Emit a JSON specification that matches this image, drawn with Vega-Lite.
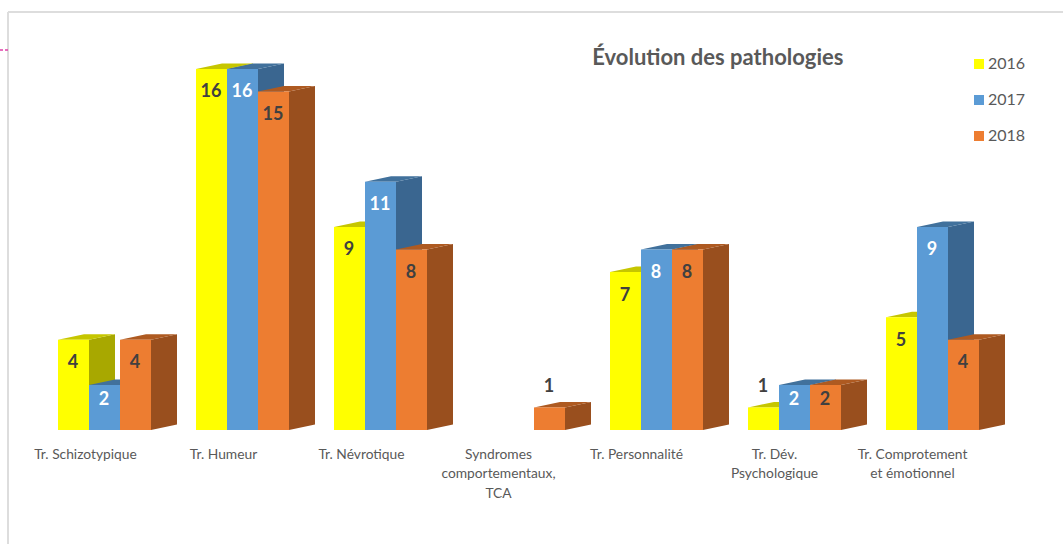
{
  "$schema": "https://vega.github.io/schema/vega-lite/v6.json",
  "width": 1063,
  "height": 544,
  "autosize": {"type": "none"},
  "padding": 0,
  "background": "white",
  "view": {"stroke": null},
  "title": {"text": "Évolution des pathologies", "anchor": "start", "dx": 593, "offset": -70, "font": "Lato", "fontSize": 22, "fontWeight": "bold", "color": "#595959"},
  "data": {"values": [
    {"pathologie": "Tr. Schizotypique", "annee": "2016", "n": 4},
    {"pathologie": "Tr. Schizotypique", "annee": "2017", "n": 2},
    {"pathologie": "Tr. Schizotypique", "annee": "2018", "n": 4},
    {"pathologie": "Tr. Humeur", "annee": "2016", "n": 16},
    {"pathologie": "Tr. Humeur", "annee": "2017", "n": 16},
    {"pathologie": "Tr. Humeur", "annee": "2018", "n": 15},
    {"pathologie": "Tr. Névrotique", "annee": "2016", "n": 9},
    {"pathologie": "Tr. Névrotique", "annee": "2017", "n": 11},
    {"pathologie": "Tr. Névrotique", "annee": "2018", "n": 8},
    {"pathologie": "Syndromes comportementaux, TCA", "annee": "2018", "n": 1},
    {"pathologie": "Tr. Personnalité", "annee": "2016", "n": 7},
    {"pathologie": "Tr. Personnalité", "annee": "2017", "n": 8},
    {"pathologie": "Tr. Personnalité", "annee": "2018", "n": 8},
    {"pathologie": "Tr. Dév. Psychologique", "annee": "2016", "n": 1},
    {"pathologie": "Tr. Dév. Psychologique", "annee": "2017", "n": 2},
    {"pathologie": "Tr. Dév. Psychologique", "annee": "2018", "n": 2},
    {"pathologie": "Tr. Comprotement et émotionnel", "annee": "2016", "n": 5},
    {"pathologie": "Tr. Comprotement et émotionnel", "annee": "2017", "n": 9},
    {"pathologie": "Tr. Comprotement et émotionnel", "annee": "2018", "n": 4}
  ]},
  "transform": [
    {"calculate": "indexof(['Tr. Schizotypique','Tr. Humeur','Tr. Névrotique','Syndromes comportementaux, TCA','Tr. Personnalité','Tr. Dév. Psychologique','Tr. Comprotement et émotionnel'], datum.pathologie)", "as": "g"},
    {"calculate": "toNumber(datum.annee) - 2016", "as": "s"},
    {"calculate": "58 + 138 * datum.g + 31 * datum.s", "as": "x0"},
    {"calculate": "datum.x0 + 31", "as": "x1"},
    {"calculate": "datum.pathologie + datum.annee", "as": "key"}
  ],
  "layer": [
    {
      "data": {"values": [{}]},
      "mark": {"type": "rule", "color": "#DDDDDD", "strokeWidth": 2},
      "encoding": {
        "x": {"datum": 8, "type": "quantitative", "scale": {"domain": [0, 1063], "nice": false, "zero": false}, "axis": null},
        "y": {"datum": 18.53, "type": "quantitative", "scale": {"domain": [-5.053, 19.06], "nice": false, "zero": false}, "axis": null},
        "y2": {"datum": -5.053}
      }
    },
    {
      "data": {"values": [{}]},
      "mark": {"type": "rule", "color": "#DDDDDD", "strokeWidth": 2},
      "encoding": {
        "x": {"datum": 8, "type": "quantitative", "axis": null},
        "x2": {"datum": 1063},
        "y": {"datum": 18.53, "type": "quantitative", "axis": null}
      }
    },
    {
      "data": {"values": [{}]},
      "mark": {"type": "rule", "color": "#E040A8", "strokeWidth": 1.5, "strokeDash": [3, 2]},
      "encoding": {
        "x": {"datum": 0, "type": "quantitative", "axis": null},
        "x2": {"datum": 8},
        "y": {"datum": 16.84, "type": "quantitative", "axis": null}
      }
    },
    {
      "transform": [
        {"calculate": "[0, 1]", "as": "t"},
        {"flatten": ["t"]},
        {"calculate": "datum.x1 + 26 * datum.t", "as": "xs"},
        {"calculate": "0.244 * datum.t", "as": "ylow"},
        {"calculate": "datum.n + 0.244 * datum.t", "as": "yhigh"}
      ],
      "mark": {"type": "area", "opacity": 1, "line": false},
      "encoding": {
        "x": {"field": "xs", "type": "quantitative", "axis": null},
        "y": {"field": "yhigh", "type": "quantitative", "stack": null, "axis": null},
        "y2": {"field": "ylow"},
        "detail": {"field": "key"},
        "color": {"field": "annee", "type": "nominal", "legend": null, "scale": {"domain": ["2016", "2017", "2018"], "range": ["#A8A800", "#3A6690", "#994F1E"]}}
      }
    },
    {
      "transform": [
        {"calculate": "[0, 26, 31, 57]", "as": "p"},
        {"flatten": ["p"]},
        {"calculate": "datum.x0 + datum.p", "as": "xt"},
        {"calculate": "datum.n + (datum.p > 31 ? 0.244 : 0)", "as": "ylow"},
        {"calculate": "datum.n + (datum.p >= 26 ? 0.244 : 0)", "as": "yhigh"}
      ],
      "mark": {"type": "area", "opacity": 1, "line": false},
      "encoding": {
        "x": {"field": "xt", "type": "quantitative", "axis": null},
        "y": {"field": "yhigh", "type": "quantitative", "stack": null, "axis": null},
        "y2": {"field": "ylow"},
        "detail": {"field": "key"},
        "color": {"field": "annee", "type": "nominal", "legend": null, "scale": {"domain": ["2016", "2017", "2018"], "range": ["#C6C600", "#41719C", "#AE5A21"]}}
      }
    },
    {
      "mark": {"type": "rect"},
      "encoding": {
        "x": {"field": "x0", "type": "quantitative", "axis": {
          "title": null, "orient": "bottom", "offset": -114, "domain": false, "ticks": false, "grid": false,
          "values": [85, 223, 361, 498, 636, 774, 912],
          "labelExpr": "split(['Tr. Schizotypique','Tr. Humeur','Tr. Névrotique','Syndromes|comportementaux,|TCA','Tr. Personnalité','Tr. Dév.|Psychologique','Tr. Comprotement|et émotionnel'][round((datum.value - 85) / 138)], '|')",
          "labelPadding": 17, "labelBaseline": "top", "labelAlign": "center", "labelFont": "Lato", "labelFontSize": 13.8, "labelColor": "#595959", "labelLineHeight": 19.5, "labelOverlap": false, "labelFlush": false, "labelBound": false
        }},
        "x2": {"field": "x1"},
        "y": {"field": "n", "type": "quantitative", "axis": null},
        "y2": {"datum": 0},
        "color": {"field": "annee", "type": "nominal", "scale": {"domain": ["2016", "2017", "2018"], "range": ["#FFFF00", "#5B9BD5", "#ED7D31"]},
          "legend": {"title": null, "orient": "none", "legendX": 971, "legendY": 56, "symbolType": "square", "symbolSize": 100, "symbolStrokeWidth": 0, "labelFont": "Lato", "labelFontSize": 16, "labelColor": "#595959", "rowPadding": 20, "labelOffset": 1, "padding": 0}}
      }
    },
    {
      "transform": [
        {"calculate": "datum.n == 1 ? datum.n + 0.89 : (datum.n == 2 ? datum.n - 0.66 : datum.n - 1.04)", "as": "ly"},
        {"calculate": "datum.x0 + 15", "as": "lx"}
      ],
      "mark": {"type": "text", "font": "Lato", "fontSize": 18, "fontWeight": "bold", "align": "center", "baseline": "middle"},
      "encoding": {
        "x": {"field": "lx", "type": "quantitative", "axis": null},
        "y": {"field": "ly", "type": "quantitative", "axis": null},
        "text": {"field": "n", "type": "quantitative"},
        "color": {"condition": {"test": "datum.annee == '2017'", "value": "#FFFFFF"}, "value": "#404040"}
      }
    }
  ],
  "resolve": {"scale": {"color": "independent"}, "axis": {"x": "independent", "y": "independent"}}
}
